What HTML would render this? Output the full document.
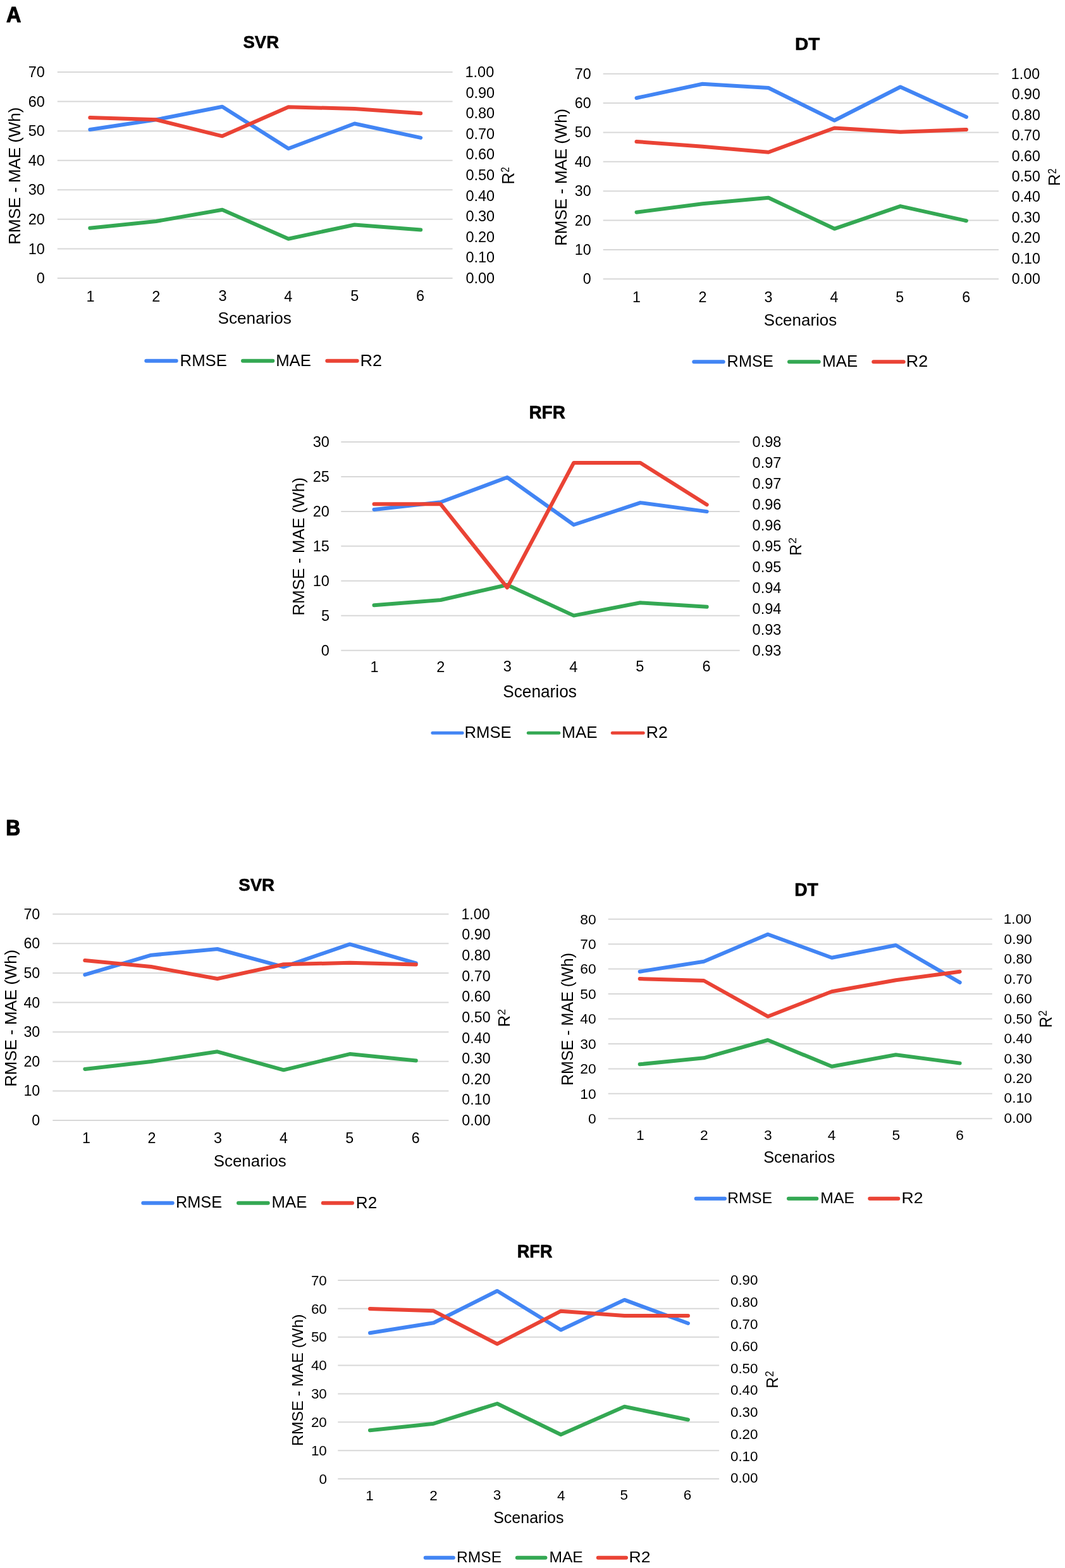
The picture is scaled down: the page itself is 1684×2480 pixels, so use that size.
<!DOCTYPE html>
<html><head><meta charset="utf-8"><title>Model performance by scenario</title>
<style>html,body{margin:0;padding:0;background:#fff;}svg{display:block;}
text{font-family:'Liberation Sans', Arial, Helvetica, sans-serif;}</style></head>
<body><svg width="1684" height="2480" viewBox="0 0 1684 2480">
<rect width="1684" height="2480" fill="#fff"/>
<text x="0" y="35.5" font-size="34.45" font-weight="bold" transform="translate(9.89 0) scale(0.9389 1)" fill="#000" stroke="#000" stroke-width="1.2" stroke-linejoin="round">A</text>
<text x="0" y="1320.6" font-size="35.18" font-weight="bold" transform="translate(9.27 0) scale(0.9043 1)" fill="#000" stroke="#000" stroke-width="1.2" stroke-linejoin="round">B</text>
<line x1="90.8" y1="114" x2="715.6" y2="114" stroke="#d8d8d8" stroke-width="2"/>
<line x1="90.8" y1="160.57" x2="715.6" y2="160.57" stroke="#d8d8d8" stroke-width="2"/>
<line x1="90.8" y1="207.14" x2="715.6" y2="207.14" stroke="#d8d8d8" stroke-width="2"/>
<line x1="90.8" y1="253.71" x2="715.6" y2="253.71" stroke="#d8d8d8" stroke-width="2"/>
<line x1="90.8" y1="300.29" x2="715.6" y2="300.29" stroke="#d8d8d8" stroke-width="2"/>
<line x1="90.8" y1="346.86" x2="715.6" y2="346.86" stroke="#d8d8d8" stroke-width="2"/>
<line x1="90.8" y1="393.43" x2="715.6" y2="393.43" stroke="#d8d8d8" stroke-width="2"/>
<line x1="90.8" y1="440" x2="715.6" y2="440" stroke="#d8d8d8" stroke-width="2"/>
<text x="44.78" y="122.09" font-size="23.5" fill="#000">70</text>
<text x="44.78" y="168.66" font-size="23.5" fill="#000">60</text>
<text x="44.78" y="215.23" font-size="23.5" fill="#000">50</text>
<text x="44.78" y="261.8" font-size="23.5" fill="#000">40</text>
<text x="44.78" y="308.38" font-size="23.5" fill="#000">30</text>
<text x="44.78" y="354.95" font-size="23.5" fill="#000">20</text>
<text x="44.78" y="401.52" font-size="23.5" fill="#000">10</text>
<text x="57.85" y="448.09" font-size="23.5" fill="#000">0</text>
<text x="735.51" y="122.09" font-size="23.5" fill="#000">1.00</text>
<text x="736.38" y="154.69" font-size="23.5" fill="#000">0.90</text>
<text x="736.38" y="187.29" font-size="23.5" fill="#000">0.80</text>
<text x="736.38" y="219.89" font-size="23.5" fill="#000">0.70</text>
<text x="736.38" y="252.49" font-size="23.5" fill="#000">0.60</text>
<text x="736.38" y="285.09" font-size="23.5" fill="#000">0.50</text>
<text x="736.38" y="317.69" font-size="23.5" fill="#000">0.40</text>
<text x="736.38" y="350.29" font-size="23.5" fill="#000">0.30</text>
<text x="736.38" y="382.89" font-size="23.5" fill="#000">0.20</text>
<text x="736.38" y="415.49" font-size="23.5" fill="#000">0.10</text>
<text x="736.38" y="448.09" font-size="23.5" fill="#000">0.00</text>
<text x="136.44" y="476.7" font-size="23.5" fill="#000">1</text>
<text x="240.17" y="476.7" font-size="23.5" fill="#000">2</text>
<text x="345.53" y="476.47" font-size="23.5" fill="#000">3</text>
<text x="449.24" y="476.7" font-size="23.5" fill="#000">4</text>
<text x="554.19" y="476.47" font-size="23.5" fill="#000">5</text>
<text x="657.88" y="476.47" font-size="23.5" fill="#000">6</text>
<text x="0" y="76.23" font-size="27.82" font-weight="bold" transform="translate(384.51 0) scale(0.9886 1)" fill="#000" stroke="#000" stroke-width="0.6" stroke-linejoin="round">SVR</text>
<text x="0" y="512.44" font-size="26.42" transform="translate(344.51 0) scale(0.9912 1)" fill="#000">Scenarios</text>
<text font-size="25.8" transform="translate(32.23 386.72) rotate(-90) scale(1.0032 1)" fill="#000">RMSE - MAE (Wh)</text>
<text font-size="27.76" transform="translate(812.6 291.64) rotate(-90) scale(0.9403 1)" fill="#000">R</text>
<text font-size="19.19" transform="translate(805.3 272.55) rotate(-90) scale(0.7778 1)" fill="#000">2</text>
<line x1="231.3" y1="570.7" x2="278.7" y2="570.7" stroke="#4285F4" stroke-width="6" stroke-linecap="round"/>
<text x="284.59" y="578.56" font-size="25.75" fill="#000">RMSE</text>
<line x1="384" y1="570.7" x2="431.3" y2="570.7" stroke="#34A853" stroke-width="6" stroke-linecap="round"/>
<text x="436.18" y="578.56" font-size="25.75" fill="#000">MAE</text>
<line x1="517.3" y1="570.7" x2="564.7" y2="570.7" stroke="#EA4335" stroke-width="6" stroke-linecap="round"/>
<text x="0" y="578.69" font-size="25.75" transform="translate(569.48 0) scale(1.0506 1)" fill="#000">R2</text>
<polyline points="142.3,205 246.88,189.3 351.46,168.7 456.04,235 560.62,195.5 665.2,217.9" fill="none" stroke="#4285F4" stroke-width="6" stroke-linejoin="round" stroke-linecap="round"/>
<polyline points="142.3,360.7 246.88,350 351.46,331.7 456.04,377.7 560.62,355.5 665.2,363.5" fill="none" stroke="#34A853" stroke-width="6" stroke-linejoin="round" stroke-linecap="round"/>
<polyline points="142.3,186 246.88,189.3 351.46,215.3 456.04,169.3 560.62,171.9 665.2,179.3" fill="none" stroke="#EA4335" stroke-width="6" stroke-linejoin="round" stroke-linecap="round"/>
<line x1="953.7" y1="116.7" x2="1579.1" y2="116.7" stroke="#d8d8d8" stroke-width="2"/>
<line x1="953.7" y1="163.07" x2="1579.1" y2="163.07" stroke="#d8d8d8" stroke-width="2"/>
<line x1="953.7" y1="209.44" x2="1579.1" y2="209.44" stroke="#d8d8d8" stroke-width="2"/>
<line x1="953.7" y1="255.81" x2="1579.1" y2="255.81" stroke="#d8d8d8" stroke-width="2"/>
<line x1="953.7" y1="302.19" x2="1579.1" y2="302.19" stroke="#d8d8d8" stroke-width="2"/>
<line x1="953.7" y1="348.56" x2="1579.1" y2="348.56" stroke="#d8d8d8" stroke-width="2"/>
<line x1="953.7" y1="394.93" x2="1579.1" y2="394.93" stroke="#d8d8d8" stroke-width="2"/>
<line x1="953.7" y1="441.3" x2="1579.1" y2="441.3" stroke="#d8d8d8" stroke-width="2"/>
<text x="908.7" y="124.72" font-size="23.29" fill="#000">70</text>
<text x="908.7" y="171.09" font-size="23.29" fill="#000">60</text>
<text x="908.7" y="217.46" font-size="23.29" fill="#000">50</text>
<text x="908.7" y="263.83" font-size="23.29" fill="#000">40</text>
<text x="908.7" y="310.2" font-size="23.29" fill="#000">30</text>
<text x="908.7" y="356.58" font-size="23.29" fill="#000">20</text>
<text x="908.7" y="402.95" font-size="23.29" fill="#000">10</text>
<text x="921.65" y="449.32" font-size="23.29" fill="#000">0</text>
<text x="1598.83" y="124.72" font-size="23.29" fill="#000">1.00</text>
<text x="1599.69" y="157.18" font-size="23.29" fill="#000">0.90</text>
<text x="1599.69" y="189.64" font-size="23.29" fill="#000">0.80</text>
<text x="1599.69" y="222.1" font-size="23.29" fill="#000">0.70</text>
<text x="1599.69" y="254.56" font-size="23.29" fill="#000">0.60</text>
<text x="1599.69" y="287.02" font-size="23.29" fill="#000">0.50</text>
<text x="1599.69" y="319.48" font-size="23.29" fill="#000">0.40</text>
<text x="1599.69" y="351.94" font-size="23.29" fill="#000">0.30</text>
<text x="1599.69" y="384.4" font-size="23.29" fill="#000">0.20</text>
<text x="1599.69" y="416.86" font-size="23.29" fill="#000">0.10</text>
<text x="1599.69" y="449.32" font-size="23.29" fill="#000">0.00</text>
<text x="999.9" y="478.3" font-size="23.29" fill="#000">1</text>
<text x="1104.52" y="478.3" font-size="23.29" fill="#000">2</text>
<text x="1208.59" y="478.07" font-size="23.29" fill="#000">3</text>
<text x="1312.6" y="478.3" font-size="23.29" fill="#000">4</text>
<text x="1416.25" y="478.07" font-size="23.29" fill="#000">5</text>
<text x="1521.14" y="478.07" font-size="23.29" fill="#000">6</text>
<text x="0" y="79.5" font-size="28.2" font-weight="bold" transform="translate(1256.92 0) scale(1.0480 1)" fill="#000" stroke="#000" stroke-width="0.6" stroke-linejoin="round">DT</text>
<text x="0" y="514.74" font-size="26.28" transform="translate(1207.82 0) scale(0.9876 1)" fill="#000">Scenarios</text>
<text font-size="25.57" transform="translate(896.27 388.82) rotate(-90) scale(1.0121 1)" fill="#000">RMSE - MAE (Wh)</text>
<text font-size="26.02" transform="translate(1675.8 294.16) rotate(-90) scale(1.0098 1)" fill="#000">R</text>
<text font-size="19.19" transform="translate(1669.5 275.06) rotate(-90) scale(0.7892 1)" fill="#000">2</text>
<line x1="1097.3" y1="572.3" x2="1143.7" y2="572.3" stroke="#4285F4" stroke-width="6" stroke-linecap="round"/>
<text x="0" y="580.1" font-size="25.57" transform="translate(1149.62 0) scale(0.9905 1)" fill="#000">RMSE</text>
<line x1="1248" y1="572.3" x2="1294.7" y2="572.3" stroke="#34A853" stroke-width="6" stroke-linecap="round"/>
<text x="0" y="580.09" font-size="25.57" transform="translate(1300.18 0) scale(1.0095 1)" fill="#000">MAE</text>
<line x1="1381.3" y1="572.3" x2="1428.7" y2="572.3" stroke="#EA4335" stroke-width="6" stroke-linecap="round"/>
<text x="0" y="580.23" font-size="25.57" transform="translate(1432.78 0) scale(1.0581 1)" fill="#000">R2</text>
<polyline points="1006.5,155 1110.8,132.7 1215.1,139 1319.4,190.5 1423.7,137.5 1528,184.9" fill="none" stroke="#4285F4" stroke-width="6" stroke-linejoin="round" stroke-linecap="round"/>
<polyline points="1006.5,335.7 1110.8,322.3 1215.1,312.7 1319.4,361.8 1423.7,326.1 1528,349.2" fill="none" stroke="#34A853" stroke-width="6" stroke-linejoin="round" stroke-linecap="round"/>
<polyline points="1006.5,224 1110.8,231.7 1215.1,240.7 1319.4,202.5 1423.7,208.8 1528,204.9" fill="none" stroke="#EA4335" stroke-width="6" stroke-linejoin="round" stroke-linecap="round"/>
<line x1="539.3" y1="699" x2="1169.7" y2="699" stroke="#d8d8d8" stroke-width="2"/>
<line x1="539.3" y1="753.95" x2="1169.7" y2="753.95" stroke="#d8d8d8" stroke-width="2"/>
<line x1="539.3" y1="808.9" x2="1169.7" y2="808.9" stroke="#d8d8d8" stroke-width="2"/>
<line x1="539.3" y1="863.85" x2="1169.7" y2="863.85" stroke="#d8d8d8" stroke-width="2"/>
<line x1="539.3" y1="918.8" x2="1169.7" y2="918.8" stroke="#d8d8d8" stroke-width="2"/>
<line x1="539.3" y1="973.75" x2="1169.7" y2="973.75" stroke="#d8d8d8" stroke-width="2"/>
<line x1="539.3" y1="1028.7" x2="1169.7" y2="1028.7" stroke="#d8d8d8" stroke-width="2"/>
<text x="494.71" y="707.11" font-size="23.56" fill="#000">30</text>
<text x="494.78" y="762.06" font-size="23.56" fill="#000">25</text>
<text x="494.71" y="817.01" font-size="23.56" fill="#000">20</text>
<text x="494.78" y="871.84" font-size="23.56" fill="#000">15</text>
<text x="494.71" y="926.91" font-size="23.56" fill="#000">10</text>
<text x="507.89" y="981.74" font-size="23.56" fill="#000">5</text>
<text x="507.82" y="1036.81" font-size="23.56" fill="#000">0</text>
<text x="1189.58" y="707.11" font-size="23.56" fill="#000">0.98</text>
<text x="1189.58" y="740.08" font-size="23.56" fill="#000">0.97</text>
<text x="1189.58" y="773.05" font-size="23.56" fill="#000">0.97</text>
<text x="1189.58" y="806.02" font-size="23.56" fill="#000">0.96</text>
<text x="1189.58" y="838.99" font-size="23.56" fill="#000">0.96</text>
<text x="1189.58" y="871.96" font-size="23.56" fill="#000">0.95</text>
<text x="1189.58" y="904.93" font-size="23.56" fill="#000">0.95</text>
<text x="1189.58" y="937.9" font-size="23.56" fill="#000">0.94</text>
<text x="1189.58" y="970.87" font-size="23.56" fill="#000">0.94</text>
<text x="1189.58" y="1003.84" font-size="23.56" fill="#000">0.93</text>
<text x="1189.58" y="1036.81" font-size="23.56" fill="#000">0.93</text>
<text x="585.43" y="1062.7" font-size="23.56" fill="#000">1</text>
<text x="690.25" y="1062.7" font-size="23.56" fill="#000">2</text>
<text x="795.72" y="1062.47" font-size="23.56" fill="#000">3</text>
<text x="900.32" y="1062.7" font-size="23.56" fill="#000">4</text>
<text x="1005.27" y="1062.47" font-size="23.56" fill="#000">5</text>
<text x="1110.57" y="1062.47" font-size="23.56" fill="#000">6</text>
<text x="0" y="662.3" font-size="30.09" font-weight="bold" transform="translate(836.43 0) scale(0.9290 1)" fill="#000" stroke="#000" stroke-width="0.6" stroke-linejoin="round">RFR</text>
<text x="0" y="1102.52" font-size="28.46" transform="translate(795.21 0) scale(0.9225 1)" fill="#000">Scenarios</text>
<text font-size="25.87" transform="translate(481.19 973.84) rotate(-90) scale(1.0081 1)" fill="#000">RMSE - MAE (Wh)</text>
<text font-size="25.87" transform="translate(1266.6 878.73) rotate(-90) scale(0.9569 1)" fill="#000">R</text>
<text font-size="16.76" transform="translate(1259 859.89) rotate(-90) scale(1.0611 1)" fill="#000">2</text>
<line x1="683.9" y1="1159.3" x2="731.1" y2="1159.3" stroke="#4285F4" stroke-width="5" stroke-linecap="round"/>
<text x="0" y="1167.2" font-size="25.86" transform="translate(734.49 0) scale(0.9945 1)" fill="#000">RMSE</text>
<line x1="835.3" y1="1159.3" x2="883.8" y2="1159.3" stroke="#34A853" stroke-width="5" stroke-linecap="round"/>
<text x="0" y="1167.2" font-size="25.86" transform="translate(888.37 0) scale(1.0055 1)" fill="#000">MAE</text>
<line x1="968.3" y1="1159.3" x2="1017.2" y2="1159.3" stroke="#EA4335" stroke-width="5" stroke-linecap="round"/>
<text x="0" y="1167.33" font-size="25.86" transform="translate(1021.72 0) scale(1.0291 1)" fill="#000">R2</text>
<polyline points="591.5,806 696.74,794.3 801.98,755 907.22,830 1012.46,795.1 1117.7,809.1" fill="none" stroke="#4285F4" stroke-width="6" stroke-linejoin="round" stroke-linecap="round"/>
<polyline points="591.5,957.3 696.74,949 801.98,925 907.22,973.6 1012.46,953.3 1117.7,959.8" fill="none" stroke="#34A853" stroke-width="6" stroke-linejoin="round" stroke-linecap="round"/>
<polyline points="591.5,797.3 696.74,797.3 801.98,929.3 907.22,732 1012.46,732 1117.7,798.2" fill="none" stroke="#EA4335" stroke-width="6" stroke-linejoin="round" stroke-linecap="round"/>
<line x1="83.3" y1="1445.7" x2="709.4" y2="1445.7" stroke="#d8d8d8" stroke-width="2"/>
<line x1="83.3" y1="1492.31" x2="709.4" y2="1492.31" stroke="#d8d8d8" stroke-width="2"/>
<line x1="83.3" y1="1538.93" x2="709.4" y2="1538.93" stroke="#d8d8d8" stroke-width="2"/>
<line x1="83.3" y1="1585.54" x2="709.4" y2="1585.54" stroke="#d8d8d8" stroke-width="2"/>
<line x1="83.3" y1="1632.16" x2="709.4" y2="1632.16" stroke="#d8d8d8" stroke-width="2"/>
<line x1="83.3" y1="1678.77" x2="709.4" y2="1678.77" stroke="#d8d8d8" stroke-width="2"/>
<line x1="83.3" y1="1725.39" x2="709.4" y2="1725.39" stroke="#d8d8d8" stroke-width="2"/>
<line x1="83.3" y1="1772" x2="709.4" y2="1772" stroke="#d8d8d8" stroke-width="2"/>
<text x="37.4" y="1453.72" font-size="23.29" fill="#000">70</text>
<text x="37.4" y="1500.33" font-size="23.29" fill="#000">60</text>
<text x="37.4" y="1546.95" font-size="23.29" fill="#000">50</text>
<text x="37.4" y="1593.56" font-size="23.29" fill="#000">40</text>
<text x="37.4" y="1640.18" font-size="23.29" fill="#000">30</text>
<text x="37.4" y="1686.79" font-size="23.29" fill="#000">20</text>
<text x="37.4" y="1733.4" font-size="23.29" fill="#000">10</text>
<text x="50.35" y="1780.02" font-size="23.29" fill="#000">0</text>
<text x="729.43" y="1453.72" font-size="23.29" fill="#000">1.00</text>
<text x="730.29" y="1486.35" font-size="23.29" fill="#000">0.90</text>
<text x="730.29" y="1518.98" font-size="23.29" fill="#000">0.80</text>
<text x="730.29" y="1551.61" font-size="23.29" fill="#000">0.70</text>
<text x="730.29" y="1584.24" font-size="23.29" fill="#000">0.60</text>
<text x="730.29" y="1616.87" font-size="23.29" fill="#000">0.50</text>
<text x="730.29" y="1649.5" font-size="23.29" fill="#000">0.40</text>
<text x="730.29" y="1682.13" font-size="23.29" fill="#000">0.30</text>
<text x="730.29" y="1714.76" font-size="23.29" fill="#000">0.20</text>
<text x="730.29" y="1747.39" font-size="23.29" fill="#000">0.10</text>
<text x="730.29" y="1780.02" font-size="23.29" fill="#000">0.00</text>
<text x="129.9" y="1808.3" font-size="23.29" fill="#000">1</text>
<text x="233.52" y="1808.3" font-size="23.29" fill="#000">2</text>
<text x="337.89" y="1808.07" font-size="23.29" fill="#000">3</text>
<text x="441.9" y="1808.3" font-size="23.29" fill="#000">4</text>
<text x="546.25" y="1808.07" font-size="23.29" fill="#000">5</text>
<text x="650.84" y="1808.07" font-size="23.29" fill="#000">6</text>
<text x="377.21" y="1409.33" font-size="27.68" font-weight="bold" fill="#000" stroke="#000" stroke-width="0.6" stroke-linejoin="round">SVR</text>
<text x="337.82" y="1845.45" font-size="25.87" fill="#000">Scenarios</text>
<text font-size="25.57" transform="translate(25.97 1718.82) rotate(-90) scale(1.0121 1)" fill="#000">RMSE - MAE (Wh)</text>
<text font-size="25.73" transform="translate(806.1 1624.27) rotate(-90) scale(0.9820 1)" fill="#000">R</text>
<text font-size="16.76" transform="translate(798.7 1605.57) rotate(-90) scale(1.0349 1)" fill="#000">2</text>
<line x1="226.3" y1="1902.7" x2="272.7" y2="1902.7" stroke="#4285F4" stroke-width="6" stroke-linecap="round"/>
<text x="0" y="1910.49" font-size="25.54" transform="translate(277.92 0) scale(0.9915 1)" fill="#000">RMSE</text>
<line x1="377" y1="1902.7" x2="423.7" y2="1902.7" stroke="#34A853" stroke-width="6" stroke-linecap="round"/>
<text x="0" y="1910.49" font-size="25.54" transform="translate(429.59 0) scale(1.0085 1)" fill="#000">MAE</text>
<line x1="510.7" y1="1902.7" x2="557" y2="1902.7" stroke="#EA4335" stroke-width="6" stroke-linecap="round"/>
<text x="0" y="1910.62" font-size="25.54" transform="translate(562.85 0) scale(1.0249 1)" fill="#000">R2</text>
<polyline points="134.3,1541.7 239,1510.7 343.7,1501 448.4,1529.3 553.1,1493.4 657.8,1523.5" fill="none" stroke="#4285F4" stroke-width="6" stroke-linejoin="round" stroke-linecap="round"/>
<polyline points="134.3,1691 239,1679 343.7,1663.3 448.4,1692.3 553.1,1667.1 657.8,1677.4" fill="none" stroke="#34A853" stroke-width="6" stroke-linejoin="round" stroke-linecap="round"/>
<polyline points="134.3,1519 239,1529 343.7,1548 448.4,1525.3 553.1,1522.8 657.8,1525.5" fill="none" stroke="#EA4335" stroke-width="6" stroke-linejoin="round" stroke-linecap="round"/>
<line x1="961.7" y1="1453.7" x2="1568.9" y2="1453.7" stroke="#d8d8d8" stroke-width="2"/>
<line x1="961.7" y1="1493.15" x2="1568.9" y2="1493.15" stroke="#d8d8d8" stroke-width="2"/>
<line x1="961.7" y1="1532.6" x2="1568.9" y2="1532.6" stroke="#d8d8d8" stroke-width="2"/>
<line x1="961.7" y1="1572.05" x2="1568.9" y2="1572.05" stroke="#d8d8d8" stroke-width="2"/>
<line x1="961.7" y1="1611.5" x2="1568.9" y2="1611.5" stroke="#d8d8d8" stroke-width="2"/>
<line x1="961.7" y1="1650.95" x2="1568.9" y2="1650.95" stroke="#d8d8d8" stroke-width="2"/>
<line x1="961.7" y1="1690.4" x2="1568.9" y2="1690.4" stroke="#d8d8d8" stroke-width="2"/>
<line x1="961.7" y1="1729.85" x2="1568.9" y2="1729.85" stroke="#d8d8d8" stroke-width="2"/>
<line x1="961.7" y1="1769.3" x2="1568.9" y2="1769.3" stroke="#d8d8d8" stroke-width="2"/>
<text x="917.21" y="1461.56" font-size="22.82" fill="#000">80</text>
<text x="917.21" y="1501.01" font-size="22.82" fill="#000">70</text>
<text x="917.21" y="1540.46" font-size="22.82" fill="#000">60</text>
<text x="917.21" y="1579.91" font-size="22.82" fill="#000">50</text>
<text x="917.21" y="1619.36" font-size="22.82" fill="#000">40</text>
<text x="917.21" y="1658.81" font-size="22.82" fill="#000">30</text>
<text x="917.21" y="1698.26" font-size="22.82" fill="#000">20</text>
<text x="917.21" y="1737.71" font-size="22.82" fill="#000">10</text>
<text x="929.9" y="1777.16" font-size="22.82" fill="#000">0</text>
<text x="1586.66" y="1461.46" font-size="22.82" fill="#000">1.00</text>
<text x="1587.51" y="1492.9" font-size="22.82" fill="#000">0.90</text>
<text x="1587.51" y="1524.34" font-size="22.82" fill="#000">0.80</text>
<text x="1587.51" y="1555.78" font-size="22.82" fill="#000">0.70</text>
<text x="1587.51" y="1587.22" font-size="22.82" fill="#000">0.60</text>
<text x="1587.51" y="1618.66" font-size="22.82" fill="#000">0.50</text>
<text x="1587.51" y="1650.1" font-size="22.82" fill="#000">0.40</text>
<text x="1587.51" y="1681.54" font-size="22.82" fill="#000">0.30</text>
<text x="1587.51" y="1712.98" font-size="22.82" fill="#000">0.20</text>
<text x="1587.51" y="1744.42" font-size="22.82" fill="#000">0.10</text>
<text x="1587.51" y="1775.86" font-size="22.82" fill="#000">0.00</text>
<text x="1006.04" y="1803.3" font-size="22.82" fill="#000">1</text>
<text x="1106.95" y="1803.3" font-size="22.82" fill="#000">2</text>
<text x="1208.02" y="1803.08" font-size="22.82" fill="#000">3</text>
<text x="1308.73" y="1803.3" font-size="22.82" fill="#000">4</text>
<text x="1410.38" y="1803.08" font-size="22.82" fill="#000">5</text>
<text x="1511.28" y="1803.08" font-size="22.82" fill="#000">6</text>
<text x="0" y="1417.4" font-size="28.92" font-weight="bold" transform="translate(1256.21 0) scale(0.9749 1)" fill="#000" stroke="#000" stroke-width="0.6" stroke-linejoin="round">DT</text>
<text x="0" y="1839.06" font-size="24.92" transform="translate(1207.15 0) scale(1.0204 1)" fill="#000">Scenarios</text>
<text font-size="25.06" transform="translate(905.63 1717.06) rotate(-90) scale(1.0006 1)" fill="#000">RMSE - MAE (Wh)</text>
<text font-size="26.74" transform="translate(1662.5 1625.5) rotate(-90) scale(0.9131 1)" fill="#000">R</text>
<text font-size="18.05" transform="translate(1655.3 1607.34) rotate(-90) scale(0.9245 1)" fill="#000">2</text>
<line x1="1100.7" y1="1895.7" x2="1146" y2="1895.7" stroke="#4285F4" stroke-width="6" stroke-linecap="round"/>
<text x="0" y="1903.19" font-size="24.66" transform="translate(1150.29 0) scale(0.9932 1)" fill="#000">RMSE</text>
<line x1="1247" y1="1895.7" x2="1291.3" y2="1895.7" stroke="#34A853" stroke-width="6" stroke-linecap="round"/>
<text x="0" y="1903.18" font-size="24.66" transform="translate(1297.26 0) scale(1.0068 1)" fill="#000">MAE</text>
<line x1="1375.3" y1="1895.7" x2="1420.3" y2="1895.7" stroke="#EA4335" stroke-width="6" stroke-linecap="round"/>
<text x="0" y="1903.31" font-size="24.66" transform="translate(1425.51 0) scale(1.0828 1)" fill="#000">R2</text>
<polyline points="1011.7,1536.7 1112.9,1520.7 1214.1,1477.7 1315.3,1514.7 1416.5,1495 1517.7,1553.9" fill="none" stroke="#4285F4" stroke-width="6" stroke-linejoin="round" stroke-linecap="round"/>
<polyline points="1011.7,1683.3 1112.9,1673.3 1214.1,1645 1315.3,1686.8 1416.5,1668.2 1517.7,1681.6" fill="none" stroke="#34A853" stroke-width="6" stroke-linejoin="round" stroke-linecap="round"/>
<polyline points="1011.7,1548 1112.9,1551 1214.1,1607.7 1315.3,1568.2 1416.5,1550.2 1517.7,1536.8" fill="none" stroke="#EA4335" stroke-width="6" stroke-linejoin="round" stroke-linecap="round"/>
<line x1="534.3" y1="2025" x2="1137.1" y2="2025" stroke="#d8d8d8" stroke-width="2"/>
<line x1="534.3" y1="2069.86" x2="1137.1" y2="2069.86" stroke="#d8d8d8" stroke-width="2"/>
<line x1="534.3" y1="2114.71" x2="1137.1" y2="2114.71" stroke="#d8d8d8" stroke-width="2"/>
<line x1="534.3" y1="2159.57" x2="1137.1" y2="2159.57" stroke="#d8d8d8" stroke-width="2"/>
<line x1="534.3" y1="2204.43" x2="1137.1" y2="2204.43" stroke="#d8d8d8" stroke-width="2"/>
<line x1="534.3" y1="2249.29" x2="1137.1" y2="2249.29" stroke="#d8d8d8" stroke-width="2"/>
<line x1="534.3" y1="2294.14" x2="1137.1" y2="2294.14" stroke="#d8d8d8" stroke-width="2"/>
<line x1="534.3" y1="2339" x2="1137.1" y2="2339" stroke="#d8d8d8" stroke-width="2"/>
<text x="491.9" y="2032.73" font-size="22.45" fill="#000">70</text>
<text x="491.9" y="2077.59" font-size="22.45" fill="#000">60</text>
<text x="491.9" y="2122.44" font-size="22.45" fill="#000">50</text>
<text x="491.9" y="2167.3" font-size="22.45" fill="#000">40</text>
<text x="491.9" y="2212.16" font-size="22.45" fill="#000">30</text>
<text x="491.9" y="2257.01" font-size="22.45" fill="#000">20</text>
<text x="491.9" y="2301.87" font-size="22.45" fill="#000">10</text>
<text x="504.39" y="2346.73" font-size="22.45" fill="#000">0</text>
<text x="1154.92" y="2032.43" font-size="22.45" fill="#000">0.90</text>
<text x="1154.92" y="2067.21" font-size="22.45" fill="#000">0.80</text>
<text x="1154.92" y="2101.98" font-size="22.45" fill="#000">0.70</text>
<text x="1154.92" y="2136.76" font-size="22.45" fill="#000">0.60</text>
<text x="1154.92" y="2171.54" font-size="22.45" fill="#000">0.50</text>
<text x="1154.92" y="2206.32" font-size="22.45" fill="#000">0.40</text>
<text x="1154.92" y="2241.1" font-size="22.45" fill="#000">0.30</text>
<text x="1154.92" y="2275.87" font-size="22.45" fill="#000">0.20</text>
<text x="1154.92" y="2310.65" font-size="22.45" fill="#000">0.10</text>
<text x="1154.92" y="2345.43" font-size="22.45" fill="#000">0.00</text>
<text x="578.25" y="2372.7" font-size="22.45" fill="#000">1</text>
<text x="679.26" y="2372.7" font-size="22.45" fill="#000">2</text>
<text x="779.72" y="2372.48" font-size="22.45" fill="#000">3</text>
<text x="880.93" y="2372.7" font-size="22.45" fill="#000">4</text>
<text x="980.48" y="2372.48" font-size="22.45" fill="#000">5</text>
<text x="1080.68" y="2372.48" font-size="22.45" fill="#000">6</text>
<text x="0" y="1988.7" font-size="28.78" font-weight="bold" transform="translate(817.79 0) scale(0.9412 1)" fill="#000" stroke="#000" stroke-width="0.6" stroke-linejoin="round">RFR</text>
<text x="0" y="2409.25" font-size="25.74" transform="translate(780.16 0) scale(0.9720 1)" fill="#000">Scenarios</text>
<text font-size="24.65" transform="translate(478.88 2287.04) rotate(-90) scale(1.0088 1)" fill="#000">RMSE - MAE (Wh)</text>
<text font-size="26.16" transform="translate(1229.7 2195.8) rotate(-90) scale(0.9334 1)" fill="#000">R</text>
<text font-size="17.9" transform="translate(1222.6 2177.43) rotate(-90) scale(0.9196 1)" fill="#000">2</text>
<line x1="672.7" y1="2463.8" x2="716.8" y2="2463.8" stroke="#4285F4" stroke-width="6" stroke-linecap="round"/>
<text x="721.98" y="2471.28" font-size="24.63" fill="#000">RMSE</text>
<line x1="817.8" y1="2463.8" x2="862.4" y2="2463.8" stroke="#34A853" stroke-width="6" stroke-linecap="round"/>
<text x="868.38" y="2471.27" font-size="24.63" fill="#000">MAE</text>
<line x1="945.8" y1="2463.8" x2="990" y2="2463.8" stroke="#EA4335" stroke-width="6" stroke-linecap="round"/>
<text x="0" y="2471.4" font-size="24.63" transform="translate(994.52 0) scale(1.0806 1)" fill="#000">R2</text>
<polyline points="585,2108.3 685.6,2092.3 786.2,2041.7 886.8,2103.5 987.4,2055.9 1088,2093" fill="none" stroke="#4285F4" stroke-width="6" stroke-linejoin="round" stroke-linecap="round"/>
<polyline points="585,2262.3 685.6,2251.7 786.2,2220 886.8,2269 987.4,2224.7 1088,2245.5" fill="none" stroke="#34A853" stroke-width="6" stroke-linejoin="round" stroke-linecap="round"/>
<polyline points="585,2070 685.6,2073.3 786.2,2125.7 886.8,2073.7 987.4,2081.1 1088,2081.1" fill="none" stroke="#EA4335" stroke-width="6" stroke-linejoin="round" stroke-linecap="round"/>
</svg></body></html>
